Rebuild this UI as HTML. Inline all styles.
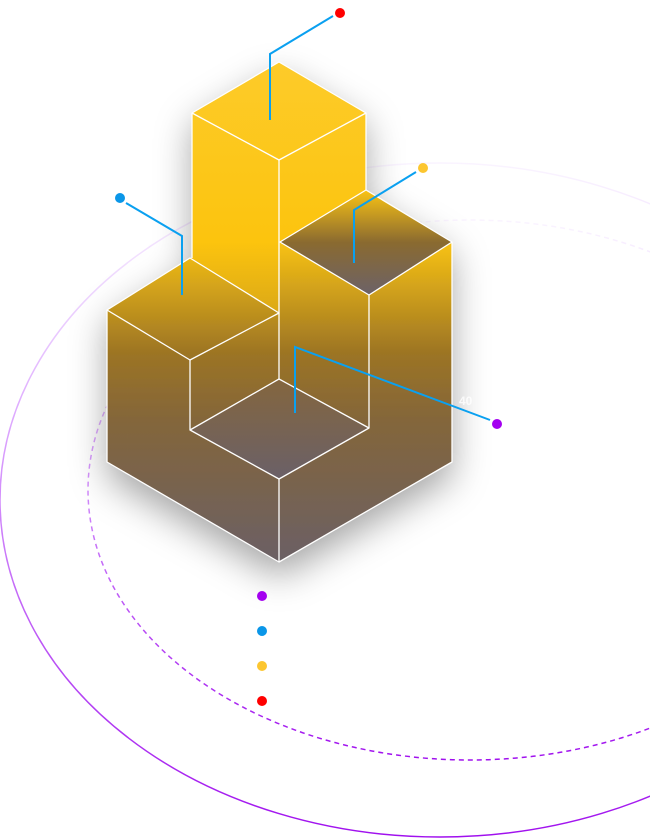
<!DOCTYPE html>
<html><head><style>html,body{margin:0;padding:0;background:#fff;width:650px;height:839px;overflow:hidden}</style></head>
<body>
<svg width="650" height="839" viewBox="0 0 650 839" xmlns="http://www.w3.org/2000/svg">
<defs>
<linearGradient id="ring" x1="0" y1="0" x2="0" y2="1">
<stop offset="0" stop-color="#f4e8ff" stop-opacity="0.5"/>
<stop offset="0.35" stop-color="#e0b0ff"/>
<stop offset="1" stop-color="#a010ee"/>
</linearGradient>
<linearGradient id="big" gradientUnits="userSpaceOnUse" x1="0" y1="240" x2="0" y2="565">
<stop offset="0" stop-color="#fac414"/><stop offset="0.35" stop-color="#9c7424"/><stop offset="0.55" stop-color="#84663a"/><stop offset="1" stop-color="#6a6066"/>
</linearGradient>
<linearGradient id="tall" gradientUnits="userSpaceOnUse" x1="0" y1="60" x2="0" y2="320">
<stop offset="0" stop-color="#fdcb2a"/><stop offset="0.7" stop-color="#fcc40e"/><stop offset="1" stop-color="#d8a618"/>
</linearGradient>
<linearGradient id="dip" gradientUnits="userSpaceOnUse" x1="0" y1="190" x2="0" y2="295">
<stop offset="0" stop-color="#fac414"/><stop offset="0.5" stop-color="#8a6a30"/><stop offset="1" stop-color="#6c6268"/>
</linearGradient>
<linearGradient id="floor" gradientUnits="userSpaceOnUse" x1="0" y1="379" x2="0" y2="480">
<stop offset="0" stop-color="#84663e"/><stop offset="1" stop-color="#6a6068"/>
</linearGradient>
<filter id="sh" x="-30%" y="-20%" width="160%" height="150%"><feDropShadow dx="0" dy="15" stdDeviation="18" flood-color="#000" flood-opacity="0.35"/></filter>
</defs>
<ellipse cx="440" cy="500" rx="440" ry="337" fill="none" stroke="url(#ring)" stroke-width="1.5"/>
<ellipse cx="470" cy="490" rx="382" ry="270" fill="none" stroke="url(#ring)" stroke-width="1.5" stroke-dasharray="5 4"/>
<g filter="url(#sh)">
<polygon points="192,113 279,62 366,113 366,300 192,330" fill="url(#tall)"/>
<polygon points="107,310 190,258 279,313 279,242 366,190 452,242 452,462 279,562 107,462" fill="url(#big)"/>
</g>
<polygon points="192,113 279,62 366,113 366,190 279,242 279,313 190,258 192,258" fill="url(#tall)"/>
<polygon points="280,242 366,190 452,242 369,295" fill="url(#dip)"/>
<polygon points="190,430 279,379 369,428 279,479" fill="url(#floor)"/>
<g fill="none" stroke="#fff" stroke-width="1.3" stroke-linejoin="round">
<polyline points="192,258 192,113 279,62 366,113 279,160 192,113"/>
<line x1="279" y1="160" x2="279" y2="242"/>
<line x1="366" y1="113" x2="366" y2="190"/>
<polygon points="107,310 190,258 279,313 190,360"/>
<polyline points="107,310 107,462 279,562 452,462 452,242 366,190 280,242 369,295 452,242"/>
<line x1="279" y1="242" x2="279" y2="379"/>
<polyline points="190,360 190,430 279,379 369,428 369,295"/>
<polyline points="190,430 279,479 369,428"/>
<line x1="279" y1="479" x2="279" y2="562"/>
</g>
<g fill="none" stroke="#0aa0f0" stroke-width="2">
<polyline points="270,120 270,54 333,16"/>
<polyline points="182,295 182,236 126,203"/>
<polyline points="354,263 354,210 416,172"/>
<polyline points="295,413 295,347 490,420"/>
</g>
<text x="459" y="405" font-family="Liberation Sans, sans-serif" font-size="12" font-weight="bold" fill="#fff" fill-opacity="0.8">40</text>
<circle cx="340" cy="13" r="5" fill="#f00"/>
<circle cx="120" cy="198" r="5" fill="#0a96e8"/>
<circle cx="423" cy="168" r="5" fill="#fcc630"/>
<circle cx="497" cy="424" r="5" fill="#a400f0"/>
<circle cx="262" cy="596" r="5" fill="#a400f0"/>
<circle cx="262" cy="631" r="5" fill="#0a96e8"/>
<circle cx="262" cy="666" r="5" fill="#fcc630"/>
<circle cx="262" cy="701" r="5" fill="#f00"/>
</svg>
</body></html>
